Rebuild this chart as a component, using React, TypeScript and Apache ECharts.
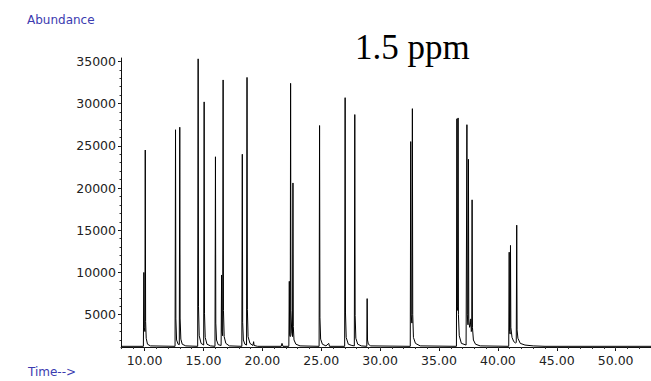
import React, { useEffect, useRef } from "react";
import * as echarts from "echarts";

// Retention time (min) and abundance of the chromatogram trace
const traceTime: number[] = [
  8.0, 9.9, 9.94, 9.97, 10.03, 10.06, 10.09, 10.14, 10.25, 10.5,
  12.59, 12.63, 12.66, 12.72, 12.85, 12.95, 12.99, 13.02, 13.08, 13.2, 13.5,
  14.51, 14.55, 14.58, 14.64, 14.8, 15.02, 15.06, 15.09, 15.15, 15.3, 15.6,
  15.98, 16.02, 16.05, 16.11, 16.25, 16.5, 16.54, 16.57, 16.63, 16.67, 16.7, 16.76, 16.9, 17.2,
  18.26, 18.3, 18.33, 18.39, 18.52, 18.66, 18.7, 18.73, 18.79, 18.95, 19.2, 19.26, 19.3, 19.6,
  21.6, 21.67, 21.75,
  22.25, 22.29, 22.32, 22.37, 22.4, 22.43, 22.5, 22.56, 22.6, 22.63, 22.69, 22.85, 23.2,
  24.82, 24.86, 24.89, 24.95, 25.1, 25.4, 25.64, 25.7,
  26.99, 27.03, 27.06, 27.12, 27.3, 27.6, 27.81, 27.85, 27.88, 27.94, 28.1, 28.4,
  28.87, 28.9, 28.93, 29.0, 29.2,
  32.56, 32.6, 32.63, 32.7, 32.74, 32.77, 32.83, 33.0, 33.4,
  36.48, 36.52, 36.55, 36.59, 36.62, 36.65, 36.72, 36.9, 37.3,
  37.33, 37.37, 37.4, 37.46, 37.5, 37.53, 37.6, 37.67, 37.7, 37.74, 37.78, 37.81, 37.84, 37.92, 38.1, 38.5,
  40.92, 40.96, 40.99, 41.04, 41.07, 41.1, 41.2, 41.35, 41.5, 41.56, 41.6, 41.63, 41.7, 41.9, 42.3, 43.0, 44.0,
  53.0,
];
const traceAbund: number[] = [
  1250, 1250, 10000, 3500, 3000, 24500, 4200, 2200, 1500, 1300,
  1250, 26900, 4500, 2000, 1500, 1450, 27200, 4600, 2100, 1500, 1300,
  1250, 35300, 6000, 2500, 1600, 1400, 30200, 5100, 2300, 1500, 1300,
  1250, 23700, 4000, 2000, 1450, 1350, 9700, 3000, 2500, 32800, 5500, 2400, 1600, 1300,
  1250, 24000, 4100, 2000, 1500, 1400, 33100, 5600, 2400, 1600, 1350, 1800, 1350, 1250,
  1250, 1600, 1250,
  1250, 8950, 2600, 2400, 32400, 5500, 2800, 2400, 20600, 3600, 2000, 1500, 1300,
  1250, 27400, 4700, 2100, 1500, 1300, 1600, 1250,
  1250, 30700, 5200, 2300, 1500, 1350, 1300, 28700, 4900, 2200, 1500, 1300,
  1250, 6900, 2000, 1500, 1300,
  1250, 25500, 5000, 4000, 29400, 5000, 2300, 1600, 1300,
  1250, 28200, 6000, 5500, 28300, 5000, 2500, 1600, 1400,
  1400, 27500, 5000, 3800, 23400, 4500, 3500, 3800, 4500, 3000, 3200, 18600, 3500, 2000, 1500, 1300,
  1250, 12400, 3000, 2700, 13200, 3500, 2300, 1800, 1650, 1700, 15600, 3200, 2200, 1600, 1400, 1300, 1250,
  1250,
];

// Axis ticks
const xMajorTicks: number[] = [10, 15, 20, 25, 30, 35, 40, 45, 50];
const xMinorTicks: number[] = [
  8, 9, 10, 11, 12, 13, 14, 15, 16, 17, 18, 19, 20, 21, 22, 23, 24, 25, 26, 27, 28, 29, 30,
  31, 32, 33, 34, 35, 36, 37, 38, 39, 40, 41, 42, 43, 44, 45, 46, 47, 48, 49, 50, 51, 52, 53,
];
const yMajorTicks: number[] = [5000, 10000, 15000, 20000, 25000, 30000, 35000];
const yMinorTicks: number[] = [
  2000, 3000, 4000, 5000, 6000, 7000, 8000, 9000, 10000, 11000, 12000, 13000, 14000, 15000,
  16000, 17000, 18000, 19000, 20000, 21000, 22000, 23000, 24000, 25000, 26000, 27000, 28000,
  29000, 30000, 31000, 32000, 33000, 34000, 35000,
];

const X_MIN = 8;
const X_MAX = 53;
const Y_MIN = 1170;
const Y_MAX = 35400;

export default function App() {
  const ref = useRef<HTMLDivElement>(null);
  useEffect(() => {
    if (!ref.current) return;
    const chart = echarts.init(ref.current, null, { renderer: "svg" });
    const labelFont = { fontFamily: "DejaVu Sans", fontSize: 12.5, color: "#222" };
    chart.setOption({
      animation: false,
      backgroundColor: "#fff",
      grid: { left: 121, top: 58, width: 530, height: 289, containLabel: false },
      xAxis: [
        {
          type: "value",
          min: X_MIN,
          max: X_MAX,
          position: "bottom",
          axisLine: { show: true, onZero: false, lineStyle: { color: "#111", width: 1 } },
          axisTick: { show: true, customValues: xMajorTicks, length: 4, lineStyle: { color: "#111" } },
          axisLabel: {
            show: true,
            customValues: xMajorTicks,
            formatter: (v: number) => v.toFixed(2),
            margin: 7,
            ...labelFont,
          },
          splitLine: { show: false },
        },
        {
          type: "value",
          min: X_MIN,
          max: X_MAX,
          position: "bottom",
          axisLine: { show: false, onZero: false },
          axisTick: { show: true, customValues: xMinorTicks, length: 2, lineStyle: { color: "#333" } },
          axisLabel: { show: false },
          splitLine: { show: false },
        },
      ],
      yAxis: [
        {
          type: "value",
          min: Y_MIN,
          max: Y_MAX,
          axisLine: { show: true, onZero: false, lineStyle: { color: "#111", width: 1 } },
          axisTick: { show: true, customValues: yMajorTicks, length: 3, lineStyle: { color: "#111" } },
          axisLabel: {
            show: true,
            customValues: yMajorTicks,
            formatter: (v: number) => String(Math.round(v)),
            margin: 5,
            ...labelFont,
          },
          splitLine: { show: false },
        },
        {
          type: "value",
          min: Y_MIN,
          max: Y_MAX,
          position: "left",
          axisLine: { show: false, onZero: false },
          axisTick: { show: true, customValues: yMinorTicks, length: 1.5, lineStyle: { color: "#333" } },
          axisLabel: { show: false },
          splitLine: { show: false },
        },
      ],
      graphic: [
        {
          type: "text",
          left: 27,
          top: 14,
          style: { text: "Abundance", fontFamily: "DejaVu Sans", fontSize: 12, fill: "#3b3bb0" },
        },
        {
          type: "text",
          left: 28,
          top: 366,
          style: { text: "Time-->", fontFamily: "DejaVu Sans", fontSize: 12, fill: "#3b3bb0" },
        },
        {
          type: "text",
          left: 355,
          top: 30,
          style: { text: "1.5 ppm", fontFamily: "Liberation Serif", fontSize: 35, fill: "#000" },
        },
      ],
      series: [
        {
          type: "line",
          xAxisIndex: 0,
          yAxisIndex: 0,
          data: traceTime.map((t, i) => [t, traceAbund[i]]),
          showSymbol: false,
          symbol: "none",
          lineStyle: { color: "#000", width: 1 },
          clip: true,
        },
      ],
    });
    return () => chart.dispose();
  }, []);
  return (
    <div
      ref={ref}
      style={{ width: 651, height: 381, position: "absolute", left: 0, top: 0, background: "#fff" }}
    />
  );
}
